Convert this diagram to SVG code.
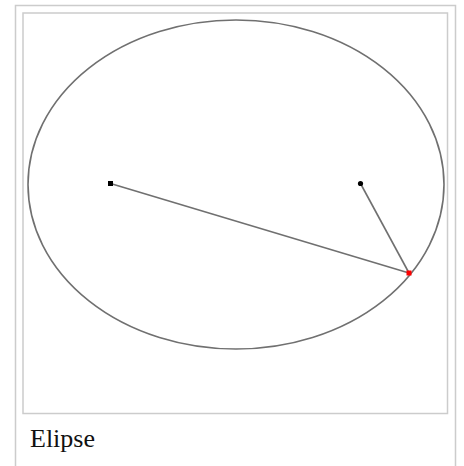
<svg xmlns="http://www.w3.org/2000/svg" width="464" height="466" viewBox="0 0 464 466">
<style>
.frame{fill:none;stroke:#cccccc;stroke-width:1.5}
.curve{fill:none;stroke:#707070;stroke-width:1.6}
.focus{fill:#000}
</style>
<rect width="464" height="466" fill="#fff"/>
<path class="frame" d="M15.5,466 V5.5 H455.5 V466"/>
<rect class="frame" x="23" y="13" width="424.5" height="400.5"/>
<g id="ellipse"><ellipse class="curve" cx="236" cy="184.5" rx="208" ry="164.5"/></g>
<g id="connectors">
<line class="curve" x1="110.5" y1="183.5" x2="409" y2="273"/>
<line class="curve" x1="360.5" y1="183.5" x2="409" y2="273"/>
</g>
<g id="focus1"><rect class="focus" x="108" y="181" width="5" height="5"/></g>
<g id="focus2"><circle class="focus" cx="360.5" cy="183.5" r="2.6"/></g>
<g id="point"><rect x="406.5" y="270.5" width="5" height="5" fill="#ff0000"/></g>
<text x="30" y="447" font-family="Liberation Serif, serif" font-size="26" fill="#111">Elipse</text>
</svg>
